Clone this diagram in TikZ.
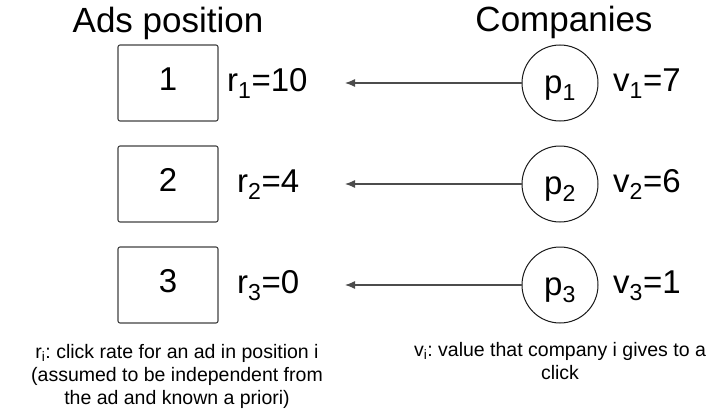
\documentclass[tikz,border=0pt]{standalone}
\usepackage{fontspec}
\setmainfont{Liberation Sans}
\frenchspacing
\usetikzlibrary{arrows.meta}

\tikzset{
  big/.style={font=\fontsize{33}{38}\selectfont},
  adbox/.style={big, draw=black!75, line width=1.1pt, rounded corners=2pt,
    minimum width=100pt, minimum height=76pt, text height=14pt, text depth=0pt},
  firm/.style={big, circle, draw=black!90, line width=1pt, minimum size=76pt, inner sep=0pt,
    text height=20pt, text depth=0pt},
  val/.style={big, anchor=base west, inner sep=0pt},
  note/.style={anchor=north, inner sep=0pt, align=center, font=\fontsize{19.5}{23}\selectfont},
  link/.style={draw=black!70, line width=1.2pt, -{Latex[length=10pt,width=8pt]}},
}

\begin{document}
\begin{tikzpicture}[x=1pt,y=-1pt]
  \useasboundingbox (0,0) rectangle (719,412);

  \node[anchor=base, font=\fontsize{35}{40}\selectfont] (ads) at (168,33) {Ads position};
  \node[anchor=base, font=\fontsize{35}{40}\selectfont] (comp) at (564,32) {Companies};

  % one row per position / company
  \foreach \i/\r/\v/\rx in {1/10/7/227,2/4/6/237,3/0/1/237}{
    \pgfmathsetmacro{\y}{83+(\i-1)*101}
    \node[adbox] (pos\i) at (168,\y) {\i};
    \node[firm] (p\i) at (560,\y) {p\textsubscript{\i}};
    \node[val] (r\i) at (\rx,\y+8) {r\textsubscript{\i}=\r};
    \node[val] (v\i) at (613,\y+8) {v\textsubscript{\i}=\v};
    \coordinate (tip\i) at (345,\y);
    \draw[link] (p\i) -- (tip\i);
  }

  \node[note] (rnote) at (177,344) {r\textsubscript{i}: click rate for an ad in position i\\
    (assumed to be independent from\\the ad and known a priori)};
  \node[note] (vnote) at (560,342) {v\textsubscript{i}: value that company i gives to a\\click};
\end{tikzpicture}
\end{document}
